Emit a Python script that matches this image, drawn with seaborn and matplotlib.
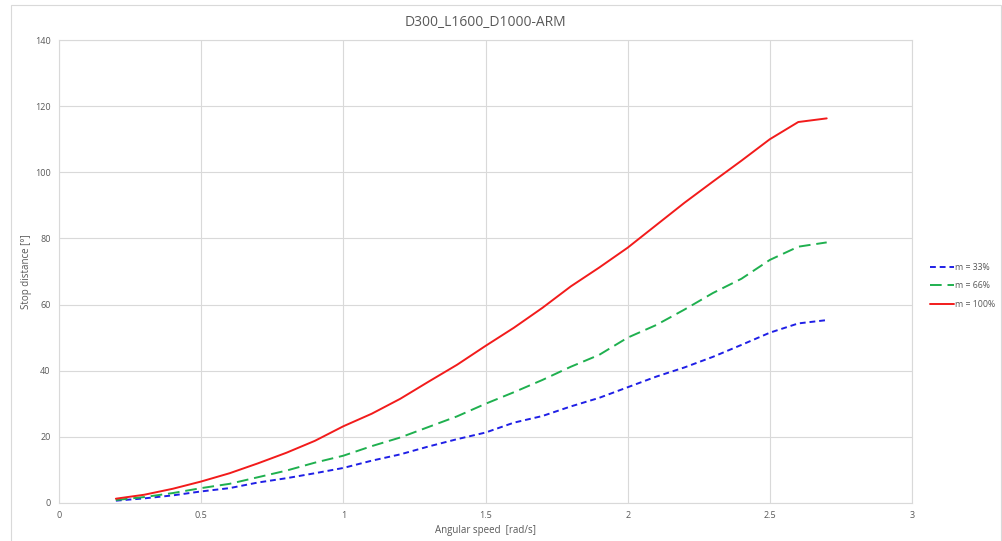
import numpy as np
import pandas as pd
import matplotlib
matplotlib.use('Agg')
import matplotlib.pyplot as plt
import seaborn as sns
from matplotlib.patches import Rectangle

# Angular speed [rad/s]
speed = [0.2, 0.3, 0.4, 0.5, 0.6, 0.7, 0.8, 0.9, 1.0, 1.1, 1.2, 1.3, 1.4,
         1.5, 1.6, 1.7, 1.8, 1.9, 2.0, 2.1, 2.2, 2.3, 2.4, 2.5, 2.6, 2.7]

# Stop distance [deg] per load
stop_33 = [0.7, 1.4, 2.3, 3.5, 4.5, 6.2, 7.5, 9.0, 10.6, 12.8, 14.7, 17.1, 19.3,
           21.3, 24.3, 26.3, 29.2, 31.8, 35.0, 38.2, 41.0, 44.2, 47.8, 51.5, 54.3, 55.3]
stop_66 = [0.9, 1.8, 3.0, 4.5, 5.8, 7.8, 9.8, 12.2, 14.3, 17.2, 19.8, 23.0, 26.2,
           30.0, 33.5, 37.2, 41.2, 44.8, 50.0, 53.8, 58.5, 63.5, 67.8, 73.5, 77.5, 78.8]
stop_100 = [1.3, 2.5, 4.3, 6.5, 9.0, 12.0, 15.2, 18.8, 23.2, 27.0, 31.5, 36.7, 41.8,
            47.5, 53.0, 59.0, 65.5, 71.2, 77.2, 84.0, 90.8, 97.2, 103.5, 110.0, 115.2, 116.3]

labels = ['m = 33%', 'm = 66%', 'm = 100%']
colors = ['#1f1fe6', '#1fb04f', '#f21b1b']
dashes = [(3, 2), (6, 3), '']

df = pd.DataFrame({
    'speed': speed * 3,
    'stop': stop_33 + stop_66 + stop_100,
    'series': [labels[0]] * len(speed) + [labels[1]] * len(speed) + [labels[2]] * len(speed),
})

sns.set_style('white')
plt.rcParams['font.family'] = ['Open Sans', 'DejaVu Sans']

fig = plt.figure(figsize=(10.02, 5.41), dpi=100)
ax = fig.add_axes([59 / 1002, 38 / 541, 853 / 1002, 463 / 541])

sns.lineplot(data=df, x='speed', y='stop', hue='series', style='series',
             palette=dict(zip(labels, colors)), dashes=dict(zip(labels, dashes)),
             linewidth=1.4, ax=ax)

ax.set_xlim(0, 3)
ax.set_ylim(0, 140)
ax.set_xticks([0, 0.5, 1, 1.5, 2, 2.5, 3])
ax.set_xticklabels(['0', '0.5', '1', '1.5', '2', '2.5', '3'])
ax.set_yticks(range(0, 141, 20))
ax.grid(True, color='#d9d9d9', linewidth=0.8)
for s in ax.spines.values():
    s.set_color('#d9d9d9')
    s.set_linewidth(0.8)
ax.tick_params(axis='both', colors='#595959', labelsize=6.5, length=0, pad=6)
ax.set_xlabel('Angular speed  [rad/s]', fontsize=7, color='#595959', labelpad=3)
ax.set_ylabel('Stop distance [°]', fontsize=7, color='#595959', labelpad=2)
ax.set_title('D300_L1600_D1000-ARM', fontsize=10, color='#595959', pad=10)

ax.legend(loc='center left', bbox_to_anchor=(922 / 1002, 1 - 286 / 541),
          bbox_transform=fig.transFigure, frameon=False, fontsize=6.3,
          handlelength=2.7, labelspacing=1.05, handletextpad=0.2, labelcolor='#595959')

# outer chart border
fig.patches.append(Rectangle((11 / 1002, -0.01), 990 / 1002, 1 - 5 / 541 + 0.01,
                             transform=fig.transFigure, fill=False,
                             edgecolor='#d9d9d9', linewidth=0.8))

fig.savefig('out.png', dpi=100)
